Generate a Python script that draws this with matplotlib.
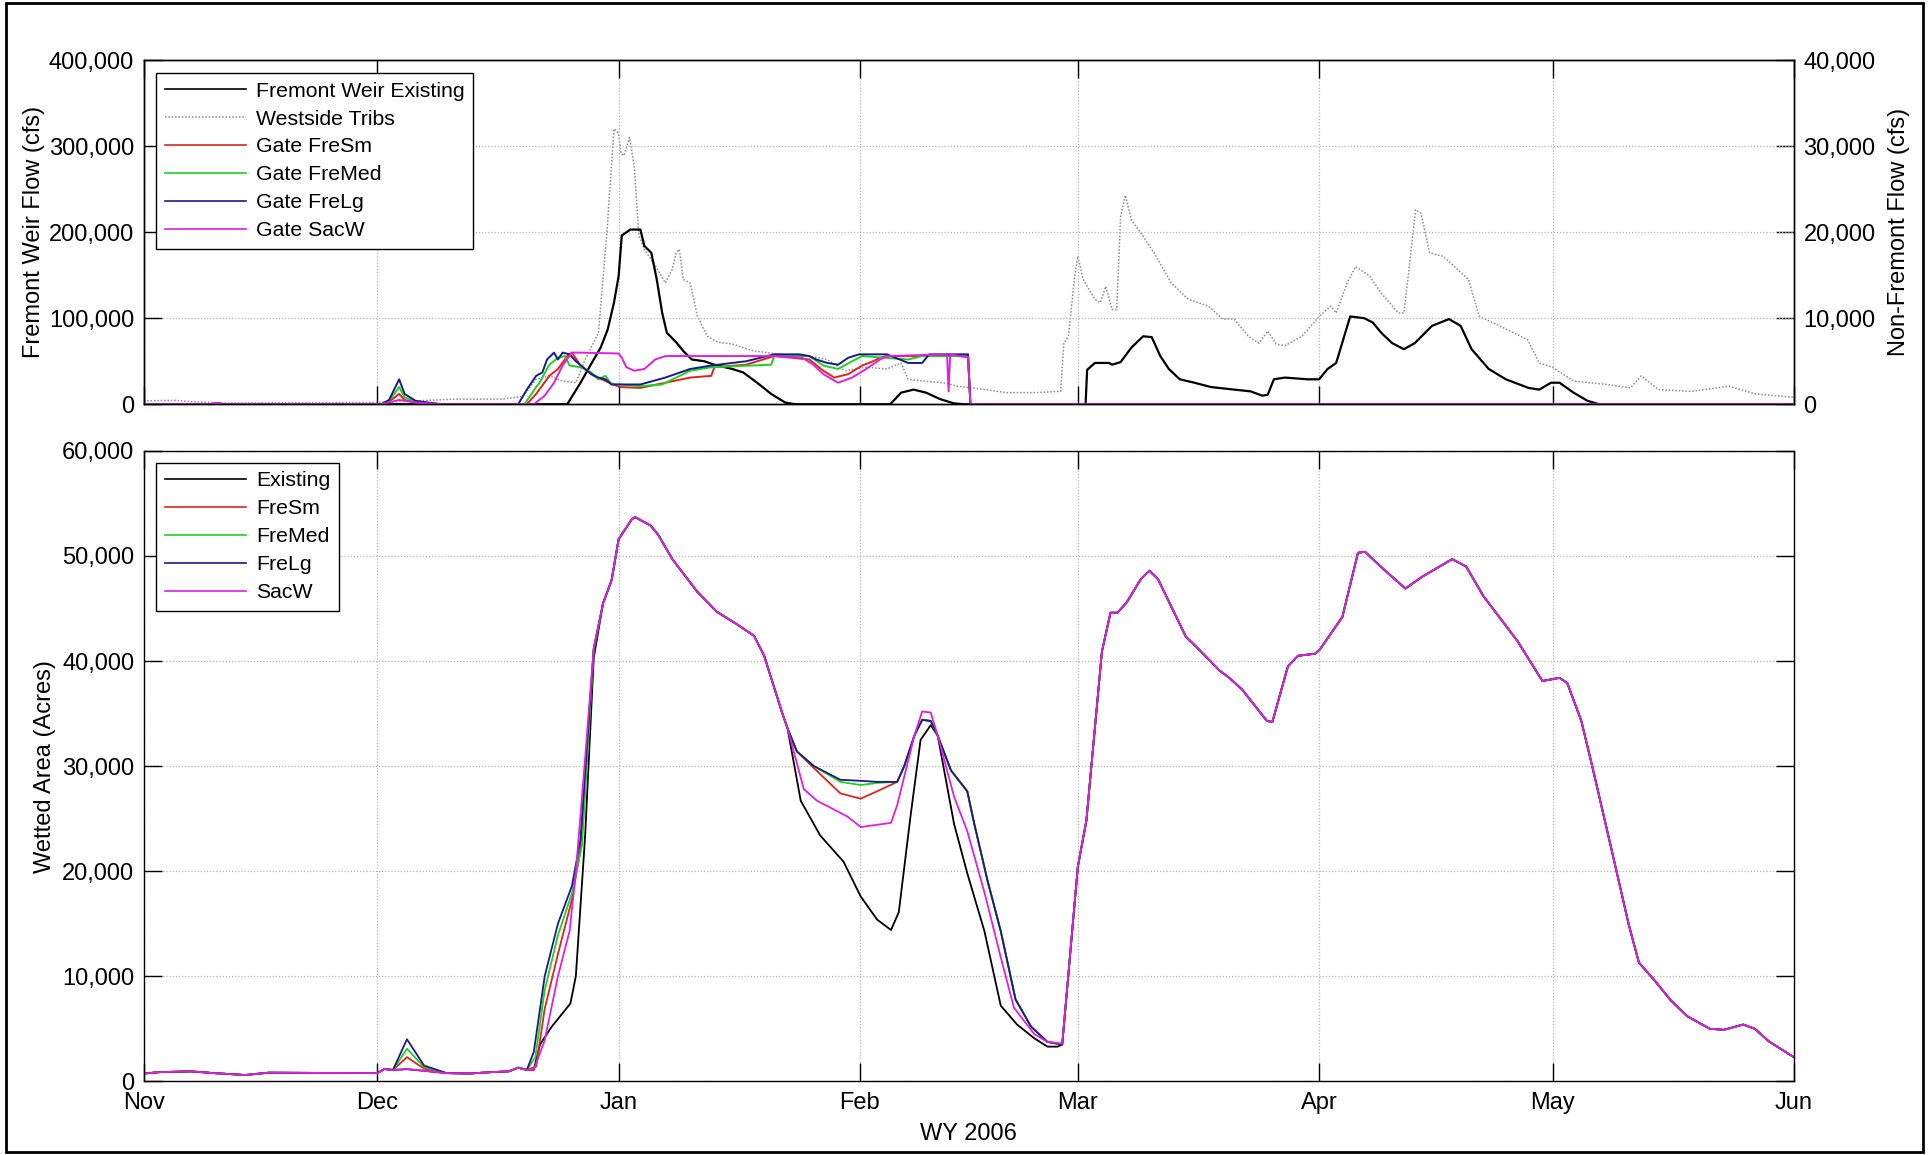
import matplotlib
matplotlib.use('Agg')
import matplotlib.pyplot as plt
from matplotlib.lines import Line2D
from matplotlib.patches import Rectangle
from matplotlib.ticker import FuncFormatter, FixedLocator, MultipleLocator

# ---------------- axis tick data ----------------
month_days = [0, 30, 61, 92, 120, 151, 181, 212]          # days since 1 Nov 2005
month_labels = ['Nov', 'Dec', 'Jan', 'Feb', 'Mar', 'Apr', 'May', 'Jun']

# ---------------- top panel: flows (cfs) ----------------
existing_flow_days = [0, 54.4, 56.1, 57.8, 58.7, 59.6, 60.4, 61.0, 61.4, 62.5, 63.8, 64.3, 65.2, 65.9,
                      66.6, 67.2, 68.4, 69.3, 70.4, 72.0, 73.3, 75.6, 77.0, 78.8, 80.6, 82.4, 83.7,
                      95.9, 97.3, 98.9, 100.5, 102.3, 104.1, 105.4,
                      121.0, 121.2, 122.2, 124.0, 124.4, 125.5, 126.9, 128.4, 129.5, 130.6, 131.7,
                      133.1, 135.0, 137.1, 140.1, 142.2, 143.7, 144.4, 145.2, 146.6, 149.5, 151.0,
                      152.1, 153.2, 155.0, 156.8, 157.9, 159.0, 160.4, 161.9, 163.3, 165.5, 167.7,
                      169.2, 170.6, 172.8, 175.0, 177.9, 179.3, 180.8, 181.9, 183.7, 185.5, 187.0, 212]
existing_flow = [0, 0, 25000, 52000, 66000, 87000, 118000, 149000, 196000, 203000, 203000, 184000, 176000, 145000,
                 106000, 83000, 72000, 62000, 52000, 50000, 46000, 41000, 37000, 25000, 12000, 2000, 0,
                 0, 13500, 17000, 13500, 6000, 1000, 0,
                 0, 40000, 48000, 48000, 46000, 49000, 66000, 79000, 78000, 56000, 41000,
                 29000, 25000, 20000, 17000, 15000, 10000, 11000, 29000, 31000, 29000, 29000,
                 41000, 48000, 102000, 100000, 95000, 83000, 71000, 64000, 71000, 91000, 99000,
                 91000, 64000, 41000, 29000, 19000, 17000, 25000, 25000, 13500, 4000, 0, 0]

tribs_days = [0, 4, 6, 10, 30, 40, 46, 48.7, 50.4, 52.1, 53.8, 55.5, 56.7, 58.4, 59.5, 60.4,
              61.0, 61.3, 61.7, 62.4, 62.9, 63.0, 63.6, 64.3, 65.7, 67.0, 67.9, 68.4, 68.8, 69.3,
              70.2, 71.1, 72.4, 73.8, 75.6, 78.3, 81.9, 85.5, 87.8, 90.1, 92.8, 95.5, 97.3, 98.2,
              100.0, 102.7, 104.5, 108.1, 110.8, 114.5, 117.8, 118.2, 118.8, 119.6, 120.0, 120.7,
              122.2, 122.9, 123.6, 124.4, 125.0, 125.5, 126.1, 126.9, 128.4, 129.8, 132.0, 134.2,
              136.8, 138.6, 140.1, 141.9, 143.3, 144.4, 145.5, 146.6, 148.8, 151.0, 152.5, 153.2,
              154.6, 155.7, 157.5, 159.0, 161.2, 161.9, 162.6, 163.4, 164.1, 165.2, 166.9, 168.4,
              170.2, 171.6, 174.2, 177.8, 179.3, 181.0, 183.7, 188.0, 191.0, 192.4, 194.6, 198.9,
              203.6, 207.1, 212.0]
tribs_flow = [400, 450, 300, 150, 200, 600, 600, 900, 2900, 3300, 2700, 2500, 5200, 8300, 20000, 32000,
              31500, 29200, 28900, 31000, 28200, 27700, 19600, 18000, 16100, 14100, 15700, 17600, 18000, 14500,
              14100, 10300, 7900, 7200, 7000, 6200, 5800, 5600, 5200, 3900, 4300, 4100, 4800, 2900,
              2700, 2500, 2100, 1700, 1350, 1350, 1500, 7100, 7900, 14900, 17200, 14500,
              12200, 11800, 13700, 11000, 11000, 21800, 24300, 21400, 19500, 17600, 14100, 12200,
              11400, 9900, 9900, 7900, 7100, 8500, 7000, 6800, 7900, 10200, 11400, 10600,
              14100, 16000, 14900, 12900, 10600, 10600, 16000, 22600, 22200, 17600, 17200, 16000,
              14500, 10200, 9100, 7500, 4800, 4300, 2700, 2300, 1900, 3300, 1700, 1500,
              2100, 1200, 800]

fresm_flow_days = [0, 30.5, 31.5, 32.8, 33.5, 34.9, 36.5, 38.3, 49.2, 50.4, 52.1, 53.2, 54.4, 55.0,
                   56.1, 57.5, 57.8, 59.3, 61.1, 63.8, 67.0, 70.2, 72.9, 73.3, 77.4, 81.0, 85.5,
                   87.3, 88.7, 90.5, 92.3, 93.7, 94.6, 95.5, 105.9, 106.2, 212]
fresm_flow = [0, 0, 3000, 12000, 5000, 2000, 1000, 0, 0, 12000, 33000, 41000, 56000, 60000,
              45000, 35000, 33000, 27000, 20000, 19000, 25000, 31000, 33000, 43000, 46000, 56000, 52000,
              39000, 31000, 35000, 45000, 50000, 54000, 56000, 56000, 0, 0]

fremed_flow_days = [0, 30.5, 31.5, 32.8, 33.5, 34.9, 36.5, 38.3, 48.9, 50.4, 50.7, 52.1, 53.2, 54.1,
                    54.7, 56.1, 57.5, 58.4, 59.3, 60.1, 61.1, 63.8, 66.6, 70.2, 72.9, 80.6, 81.0,
                    85.5, 87.3, 89.2, 91.0, 92.3, 98.2, 100.0, 105.9, 106.2, 212]
fremed_flow = [0, 0, 4000, 20000, 8000, 3000, 1500, 0, 0, 20000, 23000, 46000, 54000, 56000,
               45000, 43000, 37000, 29000, 33000, 23000, 23000, 21000, 23000, 39000, 43000, 46000, 56000,
               56000, 45000, 41000, 50000, 56000, 52000, 56000, 56000, 0, 0]

frelg_flow_days = [0, 8.5, 9.4, 10.3, 30.5, 31.5, 32.8, 33.5, 34.9, 36.5, 38.3, 48.1, 49.2, 50.4,
                   51.2, 51.8, 52.7, 53.2, 53.8, 54.7, 55.5, 56.7, 57.5, 58.4, 59.3, 60.1, 61.1,
                   63.8, 67.0, 70.2, 72.9, 77.4, 81.0, 84.2, 85.5, 86.4, 87.8, 89.2, 90.5, 91.9,
                   95.5, 98.2, 100.0, 100.9, 105.9, 106.2, 212]
frelg_flow = [0, 0, 1500, 0, 0, 5000, 29000, 12000, 4000, 2000, 0, 0, 17000, 33000,
              37000, 52000, 60000, 52000, 60000, 58000, 50000, 41000, 35000, 31000, 29000, 23000, 23000,
              23000, 31000, 41000, 45000, 50000, 58000, 58000, 56000, 52000, 48000, 46000, 54000, 58000,
              58000, 48000, 48000, 58000, 58000, 0, 0]

sacw_flow_days = [0, 8.5, 9.4, 10.3, 30.5, 32.8, 34.9, 38.3, 50.1, 51.5, 52.7, 53.8, 55.0, 56.1,
                  61.0, 61.4, 62.0, 63.0, 64.3, 65.7, 67.0, 72.9, 81.0, 84.6, 86.0, 87.3, 89.2,
                  91.0, 92.8, 94.6, 95.5, 103.2, 103.4, 103.6, 105.4, 105.9, 106.2, 212]
sacw_flow = [0, 0, 1500, 0, 0, 5000, 2000, 0, 0, 10000, 25000, 45000, 60000, 60000,
             59000, 54000, 43000, 39000, 41000, 52000, 56000, 56000, 56000, 54000, 46000, 35000, 25000,
             31000, 41000, 52000, 56000, 58000, 15000, 58000, 55000, 55000, 0, 0]

# ---------------- bottom panel: wetted area (acres) ----------------
nov_days = [0, 2, 6, 9, 13, 16, 22, 30]
nov_area = [740, 870, 950, 780, 600, 820, 800, 780]

spike_days = [30.9, 32.0, 33.8, 36.0, 38.9]
existing_spike = [1170, 1080, 1150, 1000, 780]
fresm_spike = [1170, 1080, 2300, 1200, 780]
fremed_spike = [1170, 1080, 3100, 1350, 780]
frelg_spike = [1170, 1080, 4000, 1500, 780]
sacw_spike = [1170, 1080, 1170, 1000, 780]

middec_days = [41.8, 44.6, 46.9, 48.1, 49.2]
middec_area = [740, 870, 950, 1300, 1080]

existing_rise_days = [50.1, 50.9, 52.4, 54.8, 55.5, 56.7, 57.8, 59.0, 60.1, 61.0]
existing_rise = [1100, 3500, 5200, 7400, 10000, 23400, 40300, 45500, 47700, 51600]
fresm_rise_days = [50.4, 51.5, 53.2, 55.0, 56.1, 57.8, 59.0, 60.1, 61.0]
fresm_rise = [1400, 6900, 12100, 17300, 22100, 41000, 45500, 47700, 51600]
fremed_rise_days = [50.3, 51.5, 53.2, 55.0, 56.3, 57.8, 59.0, 60.1, 61.0]
fremed_rise = [2300, 8700, 13900, 17900, 22500, 41200, 45500, 47700, 51600]
frelg_rise_days = [50.1, 51.5, 53.2, 55.0, 56.1, 57.8, 59.0, 60.1, 61.0]
frelg_rise = [2800, 10000, 15000, 18600, 23000, 41200, 45500, 47700, 51600]
sacw_rise_days = [50.1, 51.5, 53.2, 54.7, 55.5, 56.7, 57.8, 59.0, 60.1, 61.0]
sacw_rise = [1100, 3900, 10000, 14300, 19900, 30800, 41200, 45500, 47700, 51600]

jan_days = [62.7, 63.1, 65.1, 66.1, 67.9, 71.1, 73.6, 76.2, 78.4, 79.7, 82.0]
jan_area = [53500, 53700, 52900, 52000, 49700, 46600, 44700, 43500, 42400, 40500, 35100]

gate_feb_days = [82.7, 83.9, 86.1, 89.5, 92.1, 94.2, 96.8, 97.7, 99.0, 100.0, 101.1, 102.0,
                 103.7, 105.8, 106.7, 108.4, 110.1, 112.0, 114.0, 116.1, 118.0]
frelg_feb = [33600, 31400, 30000, 28700, 28600, 28500, 28500, 30000, 32900, 34400, 34300, 32900,
             29600, 27600, 24500, 19100, 14300, 7800, 5200, 3750, 3500]
fremed_feb = [33600, 31400, 30000, 28500, 28200, 28400, 28500, 30000, 32900, 34400, 34300, 32900,
              29600, 27600, 24500, 19100, 14300, 7800, 5200, 3750, 3500]
fresm_feb = [33600, 31400, 29800, 27400, 26900, 27600, 28500, 30000, 32900, 34400, 34300, 32900,
             29600, 27600, 24500, 19100, 14300, 7800, 5200, 3750, 3500]
sacw_feb_days = [82.7, 84.8, 86.5, 90.4, 92.1, 96.0, 96.8, 99.0, 100.0, 101.1, 102.0, 104.1,
                 105.8, 108.0, 110.1, 111.8, 114.4, 116.1, 118.0]
sacw_feb = [33600, 27800, 26700, 25200, 24200, 24600, 26300, 32900, 35200, 35100, 32900, 27100,
            23800, 18000, 11800, 7000, 4500, 3750, 3600]
existing_feb_days = [82.7, 84.4, 86.9, 89.9, 92.1, 94.2, 96.0, 97.0, 98.5, 99.8, 101.1, 102.0,
                     104.1, 105.8, 108.0, 110.1, 112.2, 114.4, 116.1, 117.4, 118.0]
existing_feb = [33600, 26700, 23400, 20900, 17600, 15400, 14400, 16100, 25200, 32500, 33900, 32900,
                24500, 19800, 14300, 7200, 5400, 4100, 3300, 3300, 3500]

spring_days = [120.0, 121.1, 123.1, 124.2, 125.1, 126.3, 128.1, 129.2, 130.3, 133.9, 135.3, 138.2,
               139.3, 141.1, 144.3, 145.0, 147.0, 148.3, 150.5, 151.1, 154.0, 156.0, 156.9, 159.5,
               162.1, 164.2, 168.1, 169.9, 172.1, 176.5, 179.7, 181.9, 182.9, 184.7, 186.1, 188.6,
               190.8, 192.1, 194.0, 196.2, 198.3, 201.2, 203.0, 205.5, 207.0, 208.8, 212.0]
spring_area = [20400, 24800, 40900, 44600, 44600, 45600, 47800, 48600, 47800, 42300, 41300, 39100,
               38500, 37300, 34300, 34200, 39500, 40500, 40700, 41100, 44200, 50300, 50400, 48600,
               46900, 48000, 49700, 49000, 46200, 41900, 38100, 38400, 37900, 34300, 30000, 22000,
               14900, 11300, 9700, 7700, 6200, 5000, 4900, 5400, 5000, 3800, 2300]

# ---------------- styles ----------------
c_black = '#000000'
c_red = '#d9261c'
c_green = '#1fd11f'
c_blue = '#1a1a8c'
c_mag = '#e01fe0'
c_grey = '#8a8a8a'

plt.rcParams['font.family'] = ['Liberation Sans', 'DejaVu Sans']
FS_TICK = 17
FS_LEG = 15.3
FS_LAB = 17


def area_series(spike, rise_d, rise_v, feb_d, feb_v):
    d = nov_days + spike_days + middec_days + rise_d + jan_days + feb_d + spring_days
    v = nov_area + spike + middec_area + rise_v + jan_area + feb_v + spring_area
    return d, v


comma = FuncFormatter(lambda v, p: f'{int(round(v)):,}')

fig = plt.figure(figsize=(19.29, 11.55), dpi=100)
ax1 = fig.add_axes([0.0746, 0.650, 0.8553, 0.298])
ax2 = fig.add_axes([0.0746, 0.0638, 0.8553, 0.5458])
axr = ax1.twinx()
ax1.set_zorder(axr.get_zorder() + 1)
ax1.patch.set_visible(False)

lw = 1.4
# top panel
axr.plot(tribs_days, tribs_flow, color=c_grey, lw=1.1, ls=(0, (1, 1.2)))
ax1.plot(existing_flow_days, existing_flow, color=c_black, lw=1.6)
ax1.plot(fresm_flow_days, fresm_flow, color=c_red, lw=lw)
ax1.plot(fremed_flow_days, fremed_flow, color=c_green, lw=lw)
ax1.plot(frelg_flow_days, frelg_flow, color=c_blue, lw=lw)
ax1.plot(sacw_flow_days, sacw_flow, color=c_mag, lw=lw)

ax1.set_xlim(0, 212)
ax1.set_ylim(0, 400000)
axr.set_ylim(0, 40000)
ax1.yaxis.set_major_locator(MultipleLocator(100000))
axr.yaxis.set_major_locator(MultipleLocator(10000))
ax1.yaxis.set_major_formatter(comma)
axr.yaxis.set_major_formatter(comma)
ax1.xaxis.set_major_locator(FixedLocator(month_days))
ax1.set_xticklabels([])
ax1.grid(True, color='#b5b5b5', ls=(0, (1, 1.5)), lw=0.9)
ax1.tick_params(direction='in', length=13, width=1, labelsize=FS_TICK, top=True, right=False, pad=7)
axr.tick_params(direction='in', length=13, width=1, labelsize=FS_TICK, pad=7)
ax1.set_ylabel('Fremont Weir Flow (cfs)', fontsize=FS_LAB, labelpad=3)
axr.set_ylabel('Non-Fremont Flow (cfs)', fontsize=FS_LAB, labelpad=9)

top_handles = [Line2D([], [], color=c_black, lw=1.2),
               Line2D([], [], color=c_grey, lw=1.1, ls=(0, (1, 1.2))),
               Line2D([], [], color=c_red, lw=1.2),
               Line2D([], [], color=c_green, lw=1.2),
               Line2D([], [], color=c_blue, lw=1.2),
               Line2D([], [], color=c_mag, lw=1.2)]
top_labels = ['Fremont Weir Existing', 'Westside Tribs', 'Gate FreSm', 'Gate FreMed', 'Gate FreLg', 'Gate SacW']
leg1 = ax1.legend(top_handles, top_labels, loc='upper left', bbox_to_anchor=(0.0075, 0.962),
                  borderaxespad=0, fontsize=FS_LEG, handlelength=3.8, handletextpad=0.5,
                  labelspacing=0.42, borderpad=0.4, fancybox=False, framealpha=1,
                  edgecolor='black')
leg1.get_frame().set_linewidth(1.0)

# bottom panel
series = [
    ('Existing', c_black, existing_spike, existing_rise_days, existing_rise, existing_feb_days, existing_feb),
    ('FreSm', c_red, fresm_spike, fresm_rise_days, fresm_rise, gate_feb_days, fresm_feb),
    ('FreMed', c_green, fremed_spike, fremed_rise_days, fremed_rise, gate_feb_days, fremed_feb),
    ('FreLg', c_blue, frelg_spike, frelg_rise_days, frelg_rise, gate_feb_days, frelg_feb),
    ('SacW', c_mag, sacw_spike, sacw_rise_days, sacw_rise, sacw_feb_days, sacw_feb),
]
for name, col, sp, rd, rv, fd, fv in series:
    d, v = area_series(sp, rd, rv, fd, fv)
    ax2.plot(d, v, color=col, lw=1.3, label=name)

ax2.set_xlim(0, 212)
ax2.set_ylim(0, 60000)
ax2.yaxis.set_major_locator(MultipleLocator(10000))
ax2.yaxis.set_major_formatter(comma)
ax2.xaxis.set_major_locator(FixedLocator(month_days))
ax2.set_xticklabels(month_labels)
ax2.grid(True, color='#b5b5b5', ls=(0, (1, 1.5)), lw=0.9)
ax2.tick_params(direction='in', length=13, width=1, labelsize=FS_TICK, top=True, right=True, pad=7)
ax2.tick_params(axis='x', pad=8)
ax2.set_ylabel('Wetted Area (Acres)', fontsize=FS_LAB, labelpad=4)
ax2.set_xlabel('WY 2006', fontsize=FS_LAB, labelpad=6)
leg2 = ax2.legend(loc='upper left', bbox_to_anchor=(0.0075, 0.981), borderaxespad=0, fontsize=FS_LEG,
                  handlelength=3.8, handletextpad=0.5, labelspacing=0.42, borderpad=0.4,
                  fancybox=False, framealpha=1, edgecolor='black')
leg2.get_frame().set_linewidth(1.0)
for lh in leg2.get_lines():
    lh.set_linewidth(1.2)

for a in (ax1, ax2, axr):
    for s in a.spines.values():
        s.set_linewidth(1.0)

fig.add_artist(Rectangle((0.003, 0.003), 0.994, 0.994, transform=fig.transFigure,
                         fill=False, lw=2, ec='black'))

fig.savefig('out.png', dpi=100)
